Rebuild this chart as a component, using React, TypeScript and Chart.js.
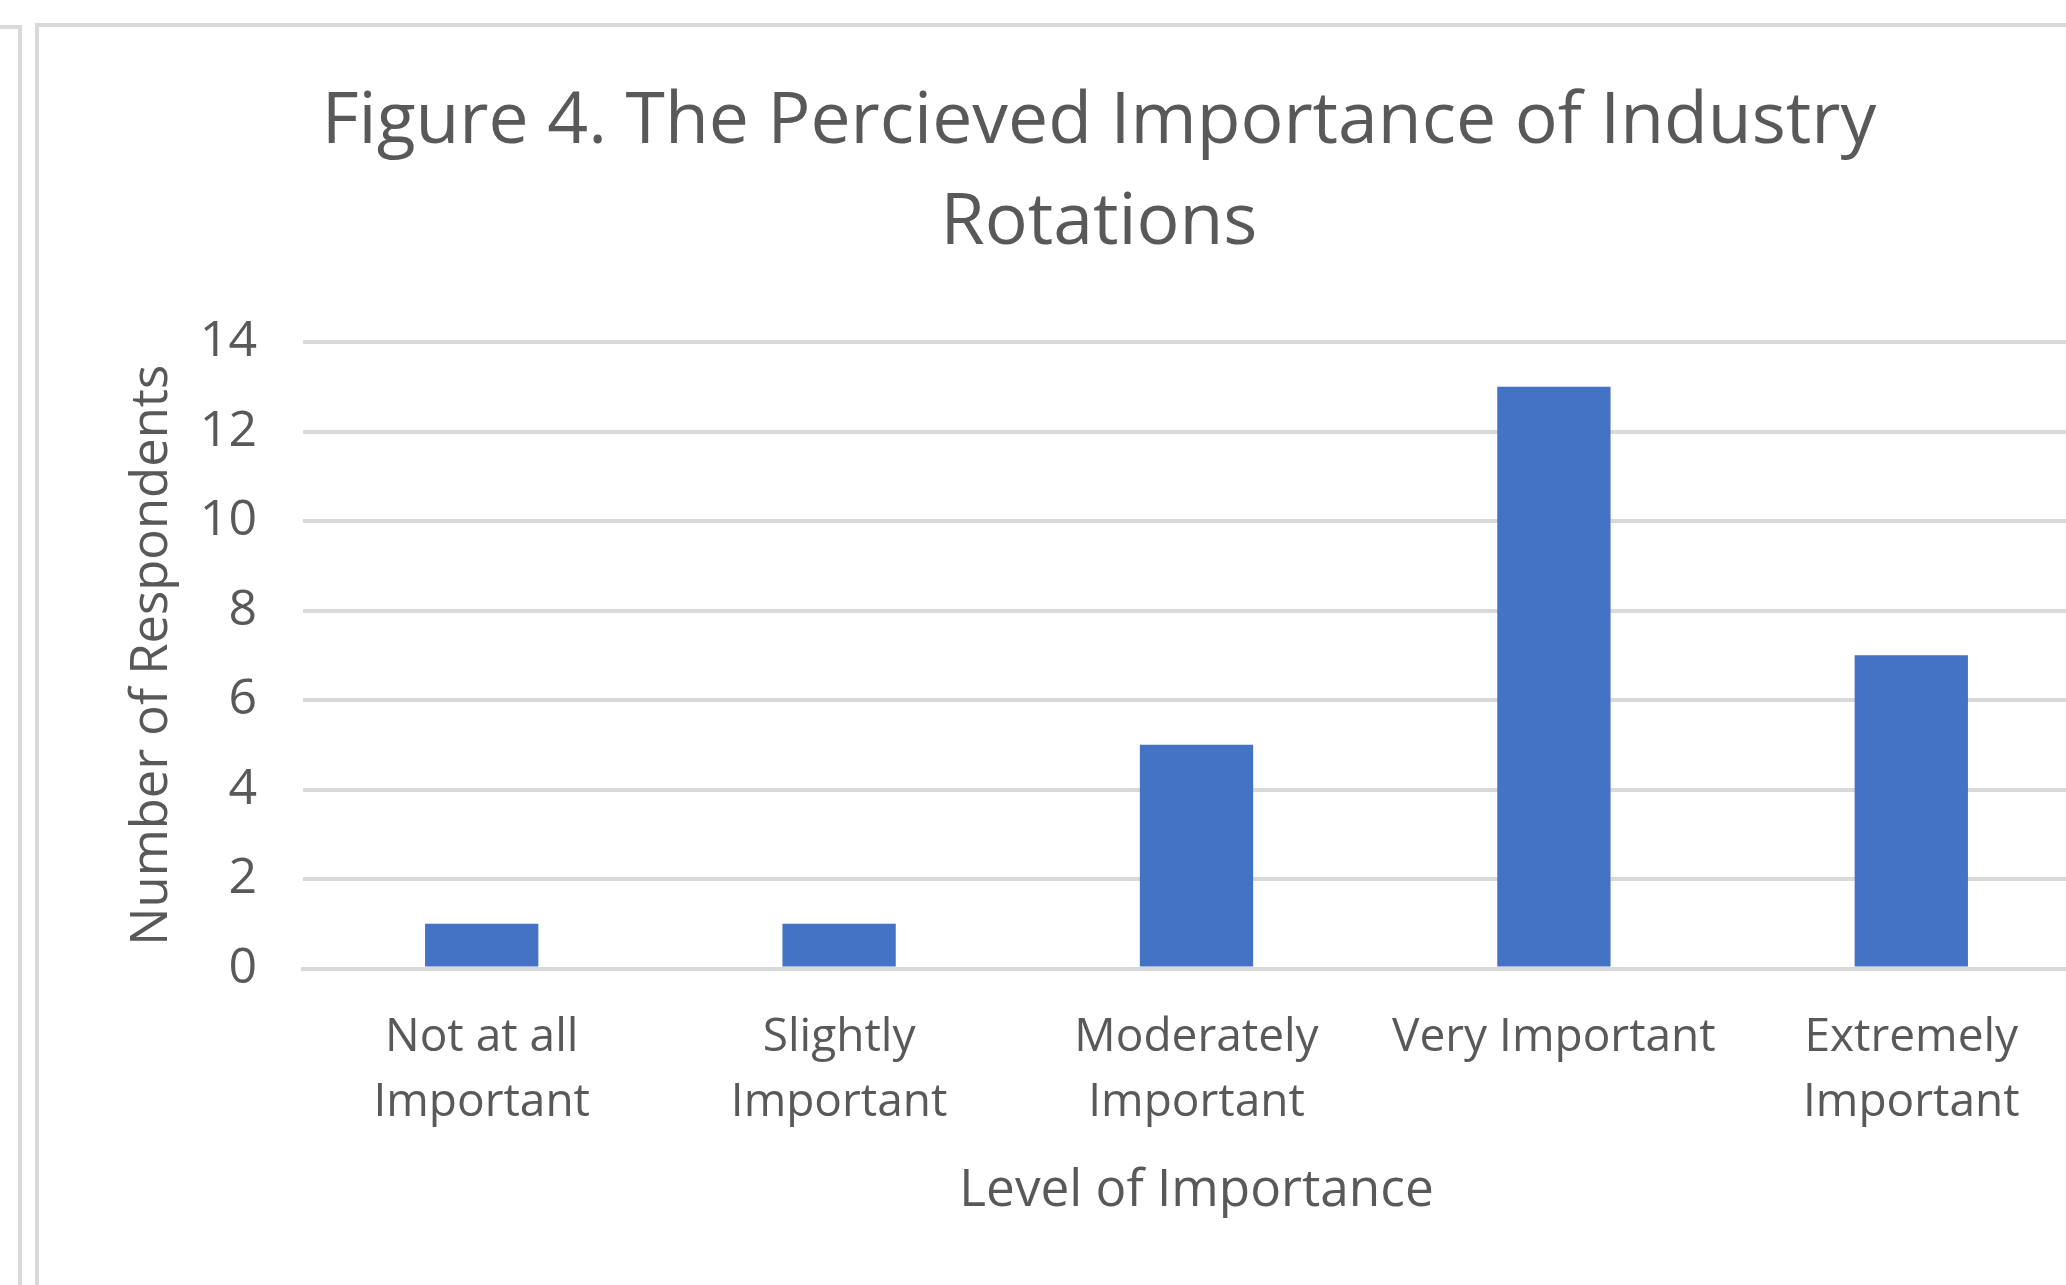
import React, { useEffect, useRef } from "react";
import { Chart, registerables } from "chart.js";

Chart.register(...registerables);

const chartTitle = ["Figure 4. The Percieved Importance of Industry", "Rotations"];
const categories: (string | string[])[] = [
  ["Not at all", "Important"],
  ["Slightly", "Important"],
  ["Moderately", "Important"],
  "Very Important",
  ["Extremely", "Important"],
];
const respondents = [1, 1, 5, 13, 7];
const yMin = 0;
const yMax = 14;
const yStep = 2;
const xAxisTitle = "Level of Importance";
const yAxisTitle = "Number of Respondents";

const FONT = "'Open Sans', 'Noto Sans', sans-serif";
const TEXT = "#595959";
const GRID = "#D9D9D9";

export default function App() {
  const ref = useRef<HTMLCanvasElement | null>(null);

  useEffect(() => {
    if (!ref.current) return;
    const chart = new Chart(ref.current, {
      type: "bar",
      data: {
        labels: categories,
        datasets: [
          {
            label: "Respondents",
            data: respondents,
            backgroundColor: "#4472C4",
            borderWidth: 0,
            categoryPercentage: 1,
            barPercentage: 0.317,
          },
        ],
      },
      options: {
        responsive: false,
        animation: false,
        devicePixelRatio: 1,
        layout: { padding: 0 },
        plugins: {
          legend: { display: false },
          tooltip: { enabled: false },
          title: {
            display: true,
            text: chartTitle,
            color: TEXT,
            font: { family: FONT, size: 71.5, weight: "normal", lineHeight: "101px" },
            padding: { top: 45.5, bottom: 67.5 },
          },
        },
        scales: {
          x: {
            grid: { display: false, drawTicks: false },
            border: { display: true, color: GRID, width: 4 },
            ticks: {
              color: TEXT,
              padding: 37,
              maxRotation: 0,
              autoSkip: false,
              font: { family: FONT, size: 46, lineHeight: "65px" },
            },
            title: {
              display: true,
              text: xAxisTitle,
              color: TEXT,
              font: { family: FONT, size: 51.3, lineHeight: 1.2 },
              padding: { top: 0, bottom: 63 },
            },
            afterFit: (s: any) => {
              s.height = 316.5;
            },
          },
          y: {
            min: yMin,
            max: yMax,
            grid: { color: GRID, lineWidth: 4, drawTicks: false },
            border: { display: false },
            ticks: {
              stepSize: yStep,
              color: TEXT,
              padding: 46,
              font: { family: FONT, size: 50 },
            },
            title: {
              display: true,
              text: yAxisTitle,
              color: TEXT,
              font: { family: FONT, size: 50.8, lineHeight: 1.2 },
              padding: { top: 83, bottom: 0 },
            },
            afterFit: (s: any) => {
              s.width = 264;
            },
          },
          y2: {
            position: "right",
            display: true,
            grid: { display: false, drawTicks: false },
            border: { display: false },
            ticks: { display: false },
            afterFit: (s: any) => {
              s.width = 69;
            },
          },
        },
      },
    } as any);
    return () => chart.destroy();
  }, []);

  return (
    <div
      style={{
        position: "fixed",
        left: 0,
        top: 0,
        width: 2066,
        height: 1285,
        overflow: "hidden",
        background: "#ffffff",
      }}
    >
      {/* neighbouring chart's frame fragment */}
      <div
        style={{
          position: "absolute",
          left: -10,
          top: 25,
          width: 28,
          height: 1400,
          borderTop: "4px solid #D9D9D9",
          borderRight: "4px solid #D9D9D9",
        }}
      />
      {/* main chart frame */}
      <div
        style={{
          position: "absolute",
          left: 35,
          top: 23,
          width: 2200,
          height: 1400,
          borderTop: "4px solid #D9D9D9",
          borderLeft: "4px solid #D9D9D9",
        }}
      />
      <canvas
        ref={ref}
        width={2120}
        height={1258}
        style={{ position: "absolute", left: 39, top: 27, width: 2120, height: 1258 }}
      />
    </div>
  );
}
